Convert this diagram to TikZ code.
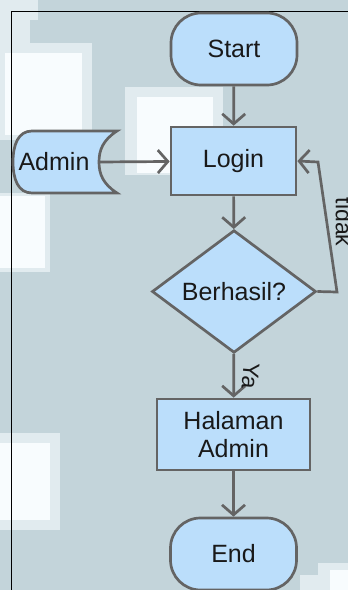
\documentclass[tikz,border=0pt]{standalone}
\usepackage{fontspec}
\setmainfont{Liberation Sans}
\usetikzlibrary{shapes.geometric,arrows.meta}
\definecolor{bgc}{RGB}{195,212,218}
\definecolor{palec}{RGB}{225,235,239}
\definecolor{whtc}{RGB}{248,252,254}
\definecolor{fillb}{RGB}{187,222,251}
\definecolor{edgec}{RGB}{100,100,100}
\definecolor{txtc}{RGB}{25,25,25}
\begin{document}
\begin{tikzpicture}[x=1pt,y=-1pt,
  shapebase/.style={draw=edgec, fill=fillb, line width=2.7pt, inner sep=0pt,
    text=txtc, font=\fontsize{25}{28}\selectfont, align=center},
  proc/.style={shapebase, rectangle, minimum width=125pt, minimum height=68pt},
  term/.style={shapebase, rectangle, rounded corners=30pt, minimum width=126pt, minimum height=72pt},
  dec/.style={shapebase, diamond, minimum width=164pt, minimum height=117pt},
  arr/.style={draw=edgec, line width=2.7pt, -{Straight Barb[length=10pt,width=23pt]}},
  lbl/.style={text=txtc, inner sep=0pt, font=\fontsize{23}{26}\selectfont},
  patchpale/.style={fill=palec},
  patchwht/.style={fill=whtc}
]
\useasboundingbox (0,0) rectangle (348,590);
\fill[bgc] (0,0) rectangle (348,590);
% light patches of the background
\fill[patchpale] (0,0) rectangle (38,20);
\fill[patchpale] (0,20) rectangle (30,43);
\fill[patchpale] (0,43) rectangle (92,140);
\fill[patchwht] (5,53) rectangle (82,135);
\fill[patchpale] (125,87) rectangle (223,175);
\fill[patchwht] (137,97) rectangle (213,173);
\fill[patchpale] (0,193) rectangle (50,272);
\fill[patchwht] (0,196) rectangle (45,268);
\fill[patchpale] (0,433) rectangle (60,530);
\fill[patchwht] (0,443) rectangle (50,520);
\fill[patchpale] (300,575) rectangle (348,590);
\fill[patchpale] (318,563) rectangle (348,590);
\fill[patchwht] (330,570) rectangle (348,590);
% frame
\draw[black, line width=1.3pt] (11.5,590) -- (11.5,11.5) -- (348,11.5);
% Admin (stored data)
\path[draw=edgec, fill=fillb, line width=2.7pt]
  (32,131) -- (117,131) .. controls (103,140) and (99,150) .. (99,162)
  .. controls (99,174) and (103,184) .. (117,193) -- (32,193)
  .. controls (18,193) and (13,179) .. (13,162)
  .. controls (13,145) and (18,131) .. (32,131) -- cycle;
\node[text=txtc, inner sep=0pt, font=\fontsize{25}{28}\selectfont] (admin) at (54,162) {Admin};
\coordinate (adminR) at (99,162);
% nodes
\node[term] (start) at (234,49) {Start};
\node[proc] (login) at (233.5,161) {Login};
\node[dec] (dec) at (234,291.5) {Berhasil?};
\node[proc, minimum width=153pt, minimum height=71pt] (hal) at (233.5,434.5) {Halaman\\Admin};
\node[term] (end) at (233.5,554) {End};
\coordinate (t1) at (337,292);
\coordinate (t2) at (318,162);
% connectors
\draw[arr] (start) -- (login);
\draw[arr] (adminR) -- (login);
\draw[arr] (login) -- (dec);
\draw[arr] (dec.east) -- (t1) -- (t2) -- (login.east);
\draw[arr] (dec) -- (hal);
\draw[arr] (hal) -- (end);
% labels
\node[lbl, rotate=-90] (tidak) at (344,222) {tidak};
\node[lbl, rotate=-95] (ya) at (250.5,376) {Ya};
\end{tikzpicture}
\end{document}
